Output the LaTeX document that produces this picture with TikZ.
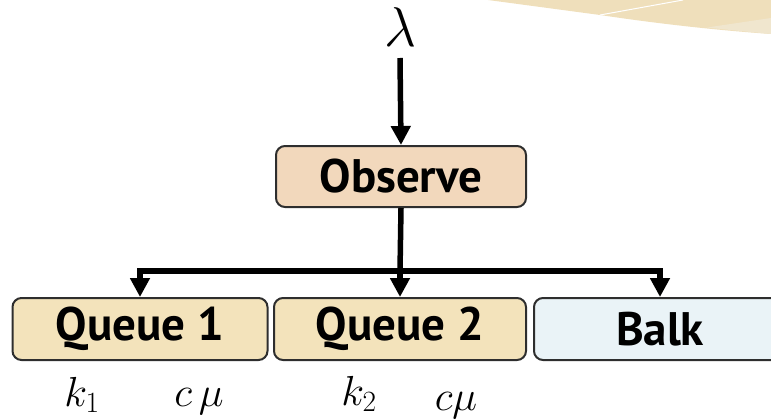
\RequirePackage{fix-cm}
\documentclass[tikz,border=0pt]{standalone}
\usepackage{fontspec}
\setmainfont{PT Sans}
\usetikzlibrary{arrows.meta}
\definecolor{obsfill}{HTML}{F2D8BC}
\definecolor{qfill}{HTML}{F3E3BB}
\definecolor{balkfill}{HTML}{EAF3F7}
\definecolor{edge}{HTML}{2E2E2E}
\definecolor{swoosh}{HTML}{EFDFBB}
\definecolor{swooshlight}{HTML}{F0E6CE}
\tikzset{
  box/.style={draw=edge, line width=2pt, rounded corners=9pt, inner sep=0pt,
    font=\fontsize{47}{50}\selectfont\bfseries, minimum height=62pt},
  conn/.style={line width=5.5pt, draw=black},
  arr/.style={conn, -{Triangle[width=19pt,length=19pt]}},
  lbl/.style={inner sep=0pt, font=\fontsize{42}{46}\selectfont},
}
\begin{document}
\begin{tikzpicture}[x=1pt,y=-1pt]
\useasboundingbox (0,0) rectangle (771,420);
% decorative swoosh
\fill[swoosh] (488,0) -- (771,0) -- (771,34) .. controls (700,29) and (640,21) .. (600,15) -- cycle;
\fill[swooshlight] (707,27.5) -- (771,18) -- (771,34) .. controls (745,31.5) and (725,29.5) .. (707,27.5) -- cycle;
\draw[white, line width=1pt] (600,15) -- (683,0);
% nodes
\node[lbl, font=\fontsize{56}{60}\selectfont, anchor=base] (lam) at (400,47) {$\lambda$};
\node[box, fill=obsfill, minimum width=250pt, minimum height=61pt] (obs) at (401,176.5) {Observe};
\node[box, fill=qfill, minimum width=255pt] (q1) at (140,329) {Queue 1};
\node[box, fill=qfill, minimum width=252pt] (q2) at (400,329) {Queue 2};
\node[box, fill=balkfill, minimum width=252pt] (balk) at (660,329) {Balk};
\node[lbl, anchor=base] (k1) at (82,406) {$k_1$};
\node[lbl, anchor=base] (m1) at (199,406) {$c\,\mu$};
\node[lbl, anchor=base] (k2) at (359,405) {$k_2$};
\node[lbl, anchor=base] (m2) at (456,410) {$c\mu$};
\coordinate (j) at (400,271);
\coordinate (s) at (400,58);
% connectors
\draw[arr] (s) -- (obs.north);
\draw[conn] (obs.south) -- (j);
\draw[arr] (j) -| (q1.north);
\draw[arr] (j) -| (balk.north);
\draw[arr] (j) -- (q2.north);
\end{tikzpicture}
\end{document}
